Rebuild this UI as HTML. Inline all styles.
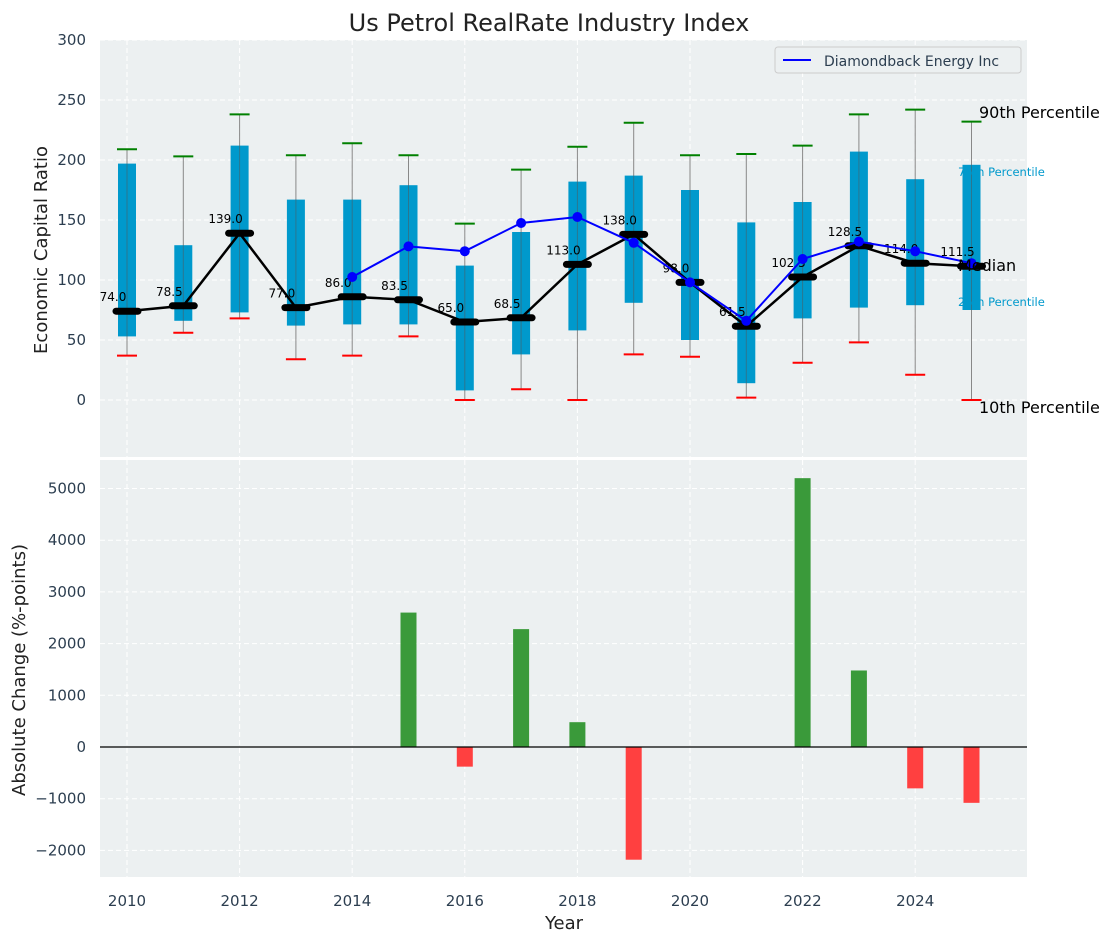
<!DOCTYPE html>
<html><head><meta charset="utf-8">
<style>
body{margin:0;background:#fff;}
svg{display:block;font-family:"DejaVu Sans","Liberation Sans",sans-serif;}
</style></head>
<body>
<svg id="chart" width="1114" height="942" xmlns="http://www.w3.org/2000/svg"></svg>
<script>
const years=[2010,2011,2012,2013,2014,2015,2016,2017,2018,2019,2020,2021,2022,2023,2024,2025];
const p90=[209,203,238,204,214,204,147,192,211,231,204,205,212,238,242,232];
const p75=[197,129,212,167,167,179,112,140,182,187,175,148,165,207,184,196];
const median=[74,78.5,139,77,86,83.5,65,68.5,113,138,98,61.5,102.5,128.5,114,111.5];
const p25=[53,66,73,62,63,63,8,38,58,81,50,14,68,77,79,75];
const p10=[37,56,68,34,37,53,0,9,0,38,36,2,31,48,21,0];
const companyYears=[2014,2015,2016,2017,2018,2019,2020,2021,2022,2023,2024,2025];
const companyVals=[102.5,128,124,147.5,152.5,131,98,66,117.5,132,124,114];
const changeYears=[2015,2016,2017,2018,2019,2022,2023,2024,2025];
const changeVals=[2600,-380,2280,480,-2180,5200,1480,-800,-1080];
const topTicks=[0,50,100,150,200,250,300];
const botTicks=[-2000,-1000,0,1000,2000,3000,4000,5000];
const xTicks=[2010,2012,2014,2016,2018,2020,2022,2024];

const NS="http://www.w3.org/2000/svg";
const svg=document.getElementById('chart');
function el(tag,attrs,parent){const e=document.createElementNS(NS,tag);for(const k in attrs)e.setAttribute(k,attrs[k]);(parent||svg).appendChild(e);return e;}
const L=100,R=1027;
const x=v=>127+(v-2010)*56.3;
const yT=v=>400-v*1.2;
const yB=v=>747-v*0.0517;
const T0=40,T1=457,B0=460,B1=877;

let r=el('rect',{x:L,y:T0,width:R-L,height:T1-T0,fill:'#ecf0f1'});

r=el('rect',{x:L,y:B0,width:R-L,height:B1-B0,fill:'#ecf0f1'});


xTicks.forEach(t=>{
  el('line',{x1:x(t),x2:x(t),y1:T0,y2:T1,stroke:'#fff','stroke-dasharray':'5,3','stroke-width':1});
  el('line',{x1:x(t),x2:x(t),y1:B0,y2:B1,stroke:'#fff','stroke-dasharray':'5,3','stroke-width':1});
  const tx=el('text',{x:x(t),y:906,'text-anchor':'middle','font-size':15,fill:'#2c3e50'});tx.textContent=t;
  
});
topTicks.forEach(t=>{
  el('line',{x1:L,x2:R,y1:yT(t),y2:yT(t),stroke:'#fff','stroke-dasharray':'5,3','stroke-width':1});
  const tx=el('text',{x:86,y:yT(t)+5,'text-anchor':'end','font-size':15,fill:'#2c3e50'});tx.textContent=t;
  
});
botTicks.forEach(t=>{
  el('line',{x1:L,x2:R,y1:yB(t),y2:yB(t),stroke:'#fff','stroke-dasharray':'5,3','stroke-width':1});
  const tx=el('text',{x:86,y:yB(t)+5,'text-anchor':'end','font-size':15,fill:'#2c3e50'});tx.textContent=(t<0?'\u2212'+(-t):t);
  
});

years.forEach((yr,i)=>{
  const cx=x(yr);
  let w=el('line',{x1:cx,x2:cx,y1:yT(p90[i]),y2:yT(p10[i]),stroke:'#888','stroke-width':1});
  
  let b=el('rect',{x:cx-9,y:yT(p75[i]),width:18,height:yT(p25[i])-yT(p75[i]),fill:'#0099cc'});
  
  el('line',{x1:cx,x2:cx,y1:yT(p75[i]),y2:yT(p25[i]),stroke:'#555','stroke-width':1,opacity:0.5});
  let c=el('line',{x1:cx-10,x2:cx+10,y1:yT(p90[i]),y2:yT(p90[i]),stroke:'green','stroke-width':2});
  
  c=el('line',{x1:cx-10,x2:cx+10,y1:yT(p10[i]),y2:yT(p10[i]),stroke:'red','stroke-width':2});
  
});
let ml=el('polyline',{points:years.map((yr,i)=>x(yr)+','+yT(median[i])).join(' '),fill:'none',stroke:'#000','stroke-width':2.5});

years.forEach((yr,i)=>{
  const cx=x(yr),cy=yT(median[i]);
  let m=el('line',{x1:cx-11,x2:cx+11,y1:cy,y2:cy,stroke:'#000','stroke-width':7,'stroke-linecap':'round'});
  
  let t=el('text',{x:cx-14,y:cy-10,'text-anchor':'middle','font-size':12,fill:'#000'});t.textContent=median[i].toFixed(1);
  
});
let cl=el('polyline',{points:companyYears.map((yr,i)=>x(yr)+','+yT(companyVals[i])).join(' '),fill:'none',stroke:'#0000ff','stroke-width':2});

companyYears.forEach((yr,i)=>{
  let p=el('circle',{cx:x(yr),cy:yT(companyVals[i]),r:5,fill:'#0000ff'});
  
});
const lbl=[['90th Percentile',979,118,16,'#000'],['75th Percentile',958,176,11.5,'#0099cc'],['Median',958,271,16,'#000'],['25th Percentile',958,306,11.5,'#0099cc'],['10th Percentile',979,413,16,'#000']];
lbl.forEach(l=>{let t=el('text',{x:l[1],y:l[2],'font-size':l[3],fill:l[4]});t.textContent=l[0];
  });

changeYears.forEach((yr,i)=>{
  const v=changeVals[i];
  let b=el('rect',{x:x(yr)-8,y:Math.min(yB(v),yB(0)),width:16,height:Math.abs(yB(v)-yB(0)),fill:v>=0?'#3a9a3a':'#ff4040'});
  
});
el('line',{x1:L,x2:R,y1:yB(0),y2:yB(0),stroke:'#000','stroke-width':1.2});

let lg=el('g',{});

el('rect',{x:775,y:47,width:246,height:26,rx:3,fill:'#ecf0f1',stroke:'#ccc'},lg);
el('line',{x1:783,x2:811,y1:60,y2:60,stroke:'#0000ff','stroke-width':2},lg);
let lt=el('text',{x:824,y:66,'font-size':14,fill:'#2c3e50'},lg);lt.textContent='Diamondback Energy Inc';

let t=el('text',{x:549,y:31,'text-anchor':'middle','font-size':24,fill:'#222'});t.textContent='Us Petrol RealRate Industry Index';

t=el('text',{x:564,y:929,'text-anchor':'middle','font-size':18,fill:'#222'});t.textContent='Year';

t=el('text',{x:0,y:0,'text-anchor':'middle','font-size':18,fill:'#222',transform:'translate(47,250) rotate(-90)'});t.textContent='Economic Capital Ratio';

t=el('text',{x:0,y:0,'text-anchor':'middle','font-size':18,fill:'#222',transform:'translate(25,670) rotate(-90)'});t.textContent='Absolute Change (%-points)';

</script>
</body></html>
